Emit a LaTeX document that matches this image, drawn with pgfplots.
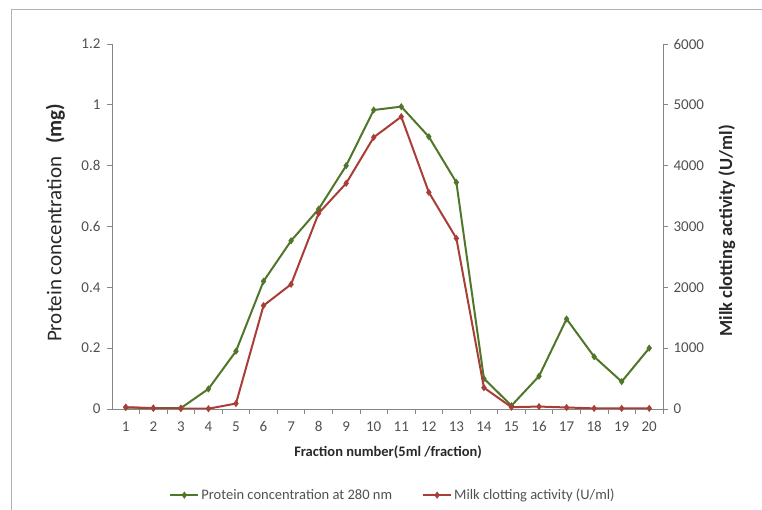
\documentclass[border=0pt]{standalone}
\usepackage{pgfplots}
\pgfplotsset{compat=1.18}
\usepackage{fontspec}
\setmainfont{Carlito}
\definecolor{grn}{RGB}{80,118,42}
\definecolor{rd}{RGB}{168,62,55}
\definecolor{axgray}{RGB}{134,134,134}
\definecolor{txtgray}{RGB}{80,80,80}
\definecolor{lblk}{RGB}{40,40,40}

\pgfplotstableread{
x p
1 0.005
2 0.003
3 0.003
4 0.066
5 0.19
6 0.42
7 0.553
8 0.657
9 0.80
10 0.983
11 0.994
12 0.895
13 0.745
14 0.10
15 0.011
16 0.108
17 0.296
18 0.172
19 0.09
20 0.20
}\protein

\pgfplotstableread{
x m
1 30
2 12
3 6
4 5
5 90
6 1700
7 2050
8 3217
9 3710
10 4466
11 4805
12 3562
13 2805
14 350
15 30
16 40
17 25
18 10
19 10
20 10
}\milk

\pgfplotsset{
  common/.style={
    at={(112pt,101pt)}, anchor=south west, scale only axis,
    width=551pt, height=365pt,
    xmin=0.5, xmax=20.5,
    axis line style={draw=axgray, line width=0.8pt},
    tick style={draw=axgray, line width=0.8pt},
    tick align=outside,
    major tick length=5pt, minor tick length=5pt,
    /pgf/number format/assume math mode=true,
    /pgf/number format/set thousands separator={},
    ticklabel style={font=\fontsize{15}{17}\selectfont, color=txtgray},
    legend image code/.code={\draw[mark repeat=2,mark phase=2] plot coordinates {(0pt,0pt) (14pt,0pt) (28pt,0pt)};},
  },
  grnstyle/.style={color=grn, line width=2pt, mark=diamond*, mark size=2pt, mark options={solid}},
  rdstyle/.style={color=rd, line width=2pt, mark=diamond*, mark size=2pt, mark options={solid, fill=rd!70!orange}},
}

\begin{document}
\begin{tikzpicture}[x=1pt,y=1pt]
\useasboundingbox (0,0) rectangle (762,510);
\draw[color=gray!60, line width=1pt] (11,0) -- (11,500) -- (762,500);
\begin{axis}[common,
  axis x line*=bottom, axis y line*=left,
  ymin=0, ymax=1.2, ytick={0,0.2,0.4,0.6,0.8,1,1.2},
  xtick={1,...,20}, minor xtick={1.5,2.5,...,20.5},
  x tick style={draw=none}, minor x tick style={draw=axgray, line width=0.8pt},
  yticklabel style={xshift=-3pt},
  xticklabel style={yshift=-4pt},
  ylabel={Protein concentration\hspace{0.6em}\textbf{(mg)}},
  ylabel style={at={(axis description cs:-0.103,0.51)}, anchor=center, font=\fontsize{21}{24}\selectfont, color=lblk},
  xlabel={\textbf{Fraction number(5ml /fraction)}},
  xlabel style={at={(axis description cs:0.501,-0.118)}, anchor=center, font=\fontsize{14.5}{16}\selectfont, color=lblk},
]
\addplot[grnstyle] table[x=x,y=p] {\protein};
\end{axis}
\begin{axis}[common,
  axis x line=none, axis y line*=right,
  ymin=0, ymax=6000, ytick={0,1000,...,6000},
  yticklabel style={xshift=2pt},
  ylabel={\textbf{Milk clotting activity (U/ml)}},
  ylabel style={at={(axis description cs:1.116,0.488)}, anchor=center, rotate=0, font=\fontsize{18.5}{20}\selectfont, color=lblk},
  legend columns=2,
  legend style={at={(axis description cs:0.51,-0.236)}, anchor=center, draw=none, fill=none,
    font=\fontsize{14.5}{16}\selectfont, text=txtgray,
    /tikz/every even column/.append style={column sep=28pt}},
]
\addlegendimage{grnstyle}
\addlegendentry{Protein concentration at 280 nm}
\addplot[rdstyle] table[x=x,y=m] {\milk};
\addlegendentry{Milk clotting activity (U/ml)}
\end{axis}
\end{tikzpicture}
\end{document}
